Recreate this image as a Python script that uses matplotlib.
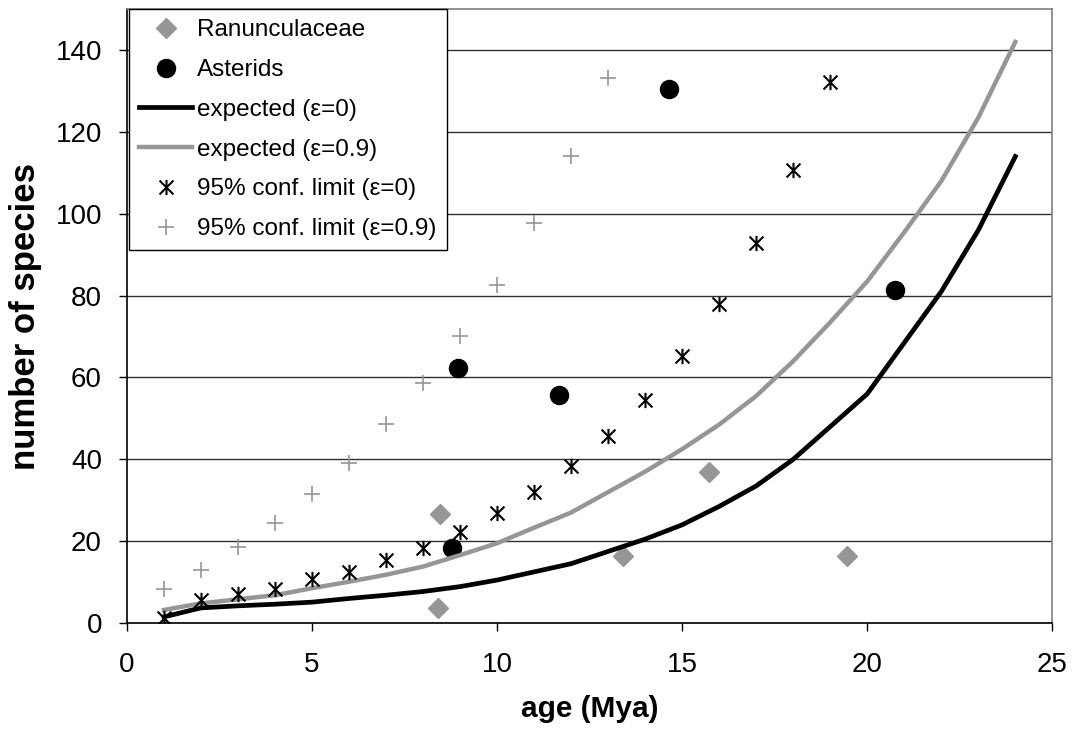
import matplotlib
matplotlib.use("Agg")
import matplotlib.pyplot as plt
from matplotlib.path import Path

plt.rcParams['font.family'] = ['Liberation Sans', 'DejaVu Sans']

# data
ran_age = [8.46, 8.41, 13.39, 15.73, 19.45]
ran_n = [26.6, 3.6, 16.4, 37.0, 16.3]

ast_age = [8.79, 8.95, 11.68, 14.64, 20.74]
ast_n = [18.3, 62.4, 55.6, 130.5, 81.4]

age_line = list(range(1, 25))
exp_eps0 = [1.5, 3.7, 4.2, 4.6, 5.1, 6.0, 6.8, 7.7, 8.9, 10.5, 12.5, 14.5,
            17.5, 20.5, 24.0, 28.5, 33.5, 40.0, 48.0, 56.0, 68.5, 81.0, 96.0, 114.0]
exp_eps09 = [3.2, 4.8, 5.8, 6.8, 8.5, 10.1, 11.8, 13.8, 16.6, 19.5, 23.3, 27.0,
             32.0, 37.0, 42.5, 48.5, 55.5, 64.0, 73.5, 83.5, 95.5, 108.0, 123.5, 142.0]

conf0_age = list(range(1, 20))
conf0 = [1.2, 5.6, 7.1, 8.3, 10.7, 12.5, 15.4, 18.3, 22.2, 26.8, 32.0, 38.4,
         45.7, 54.5, 65.3, 78.0, 92.8, 110.6, 132.2]

conf09_age = list(range(1, 14))
conf09 = [8.4, 13.0, 18.5, 24.5, 31.5, 39.2, 48.6, 58.6, 70.2, 82.7, 97.8, 114.2, 133.2]

gray = '#969696'

# excel style asterisk: X plus a vertical bar
star = Path([(-1, -1), (1, 1), (-1, 1), (1, -1), (0, -1.1), (0, 1.1)],
            [Path.MOVETO, Path.LINETO, Path.MOVETO, Path.LINETO, Path.MOVETO, Path.LINETO])

fig = plt.figure(figsize=(10.76, 7.36), dpi=100)
ax = fig.add_axes([0.118, 0.1535, 0.86, 0.834])

ax.plot(ran_age, ran_n, ls='none', marker='D', ms=10, color=gray, mec=gray, label='Ranunculaceae')
ax.plot(ast_age, ast_n, ls='none', marker='o', ms=13, color='black', label='Asterids')
ax.plot(age_line, exp_eps0, color='black', lw=3.4, label='expected (ε=0)')
ax.plot(age_line, exp_eps09, color=gray, lw=3.2, label='expected (ε=0.9)')
ax.plot(conf0_age, conf0, ls='none', marker=star, ms=11, mew=1.5, color='black',
        label='95% conf. limit (ε=0)')
ax.plot(conf09_age, conf09, ls='none', marker='+', ms=11, mew=1.2, color=gray,
        label='95% conf. limit (ε=0.9)')

ax.set_xlim(0, 25)
ax.set_ylim(0, 150)
ax.set_xticks([0, 5, 10, 15, 20, 25])
ax.set_yticks(range(0, 141, 20))
ax.yaxis.grid(True, color='#303030', lw=1.0)
ax.set_axisbelow(True)

for s in ['top', 'right']:
    ax.spines[s].set_color('#808080')
    ax.spines[s].set_linewidth(1.2)
for s in ['left', 'bottom']:
    ax.spines[s].set_color('black')
    ax.spines[s].set_linewidth(1.2)

ax.tick_params(axis='both', direction='out', length=6, width=1.0, labelsize=20)
ax.tick_params(axis='y', pad=12)
ax.tick_params(axis='x', pad=15)

ax.set_xlabel('age (Mya)', fontsize=21.5, fontweight='bold', labelpad=12)
ax.set_ylabel('number of species', fontsize=25, fontweight='bold', labelpad=10)

leg = ax.legend(loc='upper left', bbox_to_anchor=(0.002, 1.0), borderaxespad=0,
                fontsize=17.5, frameon=True, fancybox=False, framealpha=1,
                edgecolor='black', handlelength=2.2, handletextpad=0.2,
                labelspacing=0.73, borderpad=0.42, numpoints=1)
leg.get_frame().set_linewidth(1.0)

fig.savefig('out.png', dpi=100)
